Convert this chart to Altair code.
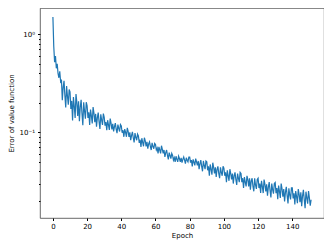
import altair as alt
import pandas as pd

step = 0.5
errors = [
    1.5, 0.75, 0.52, 0.6, 0.45, 0.5, 0.4, 0.36, 0.42, 0.33,
    0.345, 0.212, 0.288, 0.335, 0.237, 0.179, 0.296, 0.235, 0.191, 0.273,
    0.258, 0.173, 0.209, 0.132, 0.229, 0.184, 0.140, 0.246, 0.202, 0.147,
    0.207, 0.130, 0.181, 0.215, 0.156, 0.118, 0.202, 0.165, 0.138, 0.203,
    0.186, 0.140, 0.160, 0.119, 0.171, 0.147, 0.123, 0.181, 0.157, 0.127,
    0.154, 0.114, 0.141, 0.159, 0.128, 0.108, 0.153, 0.133, 0.119, 0.155,
    0.142, 0.117, 0.127, 0.105, 0.133, 0.119, 0.106, 0.138, 0.124, 0.107,
    0.122, 0.102, 0.114, 0.124, 0.108, 0.098, 0.120, 0.110, 0.102, 0.120,
    0.116, 0.099, 0.105, 0.090, 0.108, 0.100, 0.090, 0.111, 0.102, 0.090,
    0.100, 0.083, 0.093, 0.101, 0.088, 0.079, 0.098, 0.089, 0.083, 0.096,
    0.092, 0.078, 0.084, 0.071, 0.087, 0.079, 0.072, 0.088, 0.082, 0.072,
    0.080, 0.068, 0.076, 0.080, 0.072, 0.066, 0.078, 0.072, 0.068, 0.077,
    0.075, 0.066, 0.069, 0.061, 0.071, 0.066, 0.061, 0.073, 0.067, 0.061,
    0.066, 0.056, 0.062, 0.066, 0.058, 0.053, 0.062, 0.058, 0.054, 0.061,
    0.058, 0.052, 0.055, 0.050, 0.057, 0.053, 0.050, 0.057, 0.054, 0.050,
    0.055, 0.049, 0.053, 0.056, 0.052, 0.048, 0.055, 0.052, 0.050, 0.056,
    0.056, 0.049, 0.052, 0.045, 0.053, 0.0495, 0.046, 0.054, 0.050, 0.046,
    0.051, 0.042, 0.048, 0.052, 0.045, 0.040, 0.051, 0.046, 0.042, 0.051,
    0.050, 0.041, 0.045, 0.036, 0.047, 0.042, 0.037, 0.049, 0.044, 0.038,
    0.044, 0.035, 0.042, 0.045, 0.038, 0.034, 0.044, 0.039, 0.036, 0.045,
    0.043, 0.036, 0.039, 0.031, 0.041, 0.036, 0.032, 0.042, 0.038, 0.033,
    0.038, 0.030, 0.036, 0.039, 0.033, 0.029, 0.038, 0.034, 0.031, 0.039,
    0.038, 0.031, 0.034, 0.027, 0.035, 0.031, 0.028, 0.036, 0.033, 0.028,
    0.034, 0.026, 0.032, 0.034, 0.028, 0.025, 0.034, 0.029, 0.0265, 0.033,
    0.034, 0.027, 0.030, 0.024, 0.032, 0.028, 0.024, 0.033, 0.0295, 0.025,
    0.0295, 0.0226, 0.0275, 0.031, 0.0255, 0.0217, 0.030, 0.026, 0.0237, 0.030,
    0.0307, 0.0239, 0.027, 0.0208, 0.0286, 0.025, 0.0214, 0.030, 0.0265, 0.022,
    0.0264, 0.0197, 0.0245, 0.0278, 0.0226, 0.0188, 0.0268, 0.023, 0.0207, 0.0271,
    0.0271, 0.0212, 0.0239, 0.0184, 0.0252, 0.0221, 0.0189, 0.0264, 0.0233, 0.0194,
    0.0244, 0.0176, 0.0225, 0.0259, 0.0205, 0.0168, 0.0248, 0.0215, 0.0187, 0.0252,
    0.0215, 0.0178, 0.0205,
]
epochs = [i * step for i in range(len(errors))]

x_ticks = [0, 20, 40, 60, 80, 100, 120, 140]
y_major = [0.1, 1.0]
y_minor = [0.02, 0.03, 0.04, 0.05, 0.06, 0.07, 0.08, 0.09,
           0.2, 0.3, 0.4, 0.5, 0.6, 0.7, 0.8, 0.9]

df = pd.DataFrame({"epoch": epochs, "err": errors})

FONT = "DejaVu Sans"
xscale = alt.Scale(domain=[-7.55, 158.55], nice=False, zero=False)
yscale = alt.Scale(type="log", domain=[0.01336, 1.855], nice=False)

xaxis = alt.Axis(values=x_ticks, title="Epoch", grid=False, tickSize=2.5,
                 labelPadding=2, titlePadding=2, labelFontSize=7, titleFontSize=7,
                 labelFont=FONT, titleFont=FONT, titleFontWeight="normal",
                 domain=False, tickColor="#000", labelColor="#000", titleColor="#000")

line = alt.Chart(df).mark_line(color="#1f77b4", strokeWidth=1.2, clip=True).encode(
    x=alt.X("epoch:Q", scale=xscale, axis=xaxis),
    y=alt.Y("err:Q", scale=yscale,
            axis=alt.Axis(values=y_major, title="Error of value function", grid=False,
                          tickSize=2.5, labelPadding=3, titlePadding=5,
                          labelExpr="datum.value >= 0.5 ? '10⁰' : '10⁻¹'",
                          labelFontSize=7, titleFontSize=7, labelFont=FONT, titleFont=FONT,
                          titleFontWeight="normal", domain=False, tickColor="#000",
                          labelColor="#000", titleColor="#000", orient="left")),
)

minor = alt.Chart(df).mark_line(opacity=0).encode(
    x=alt.X("epoch:Q", scale=xscale, axis=xaxis),
    y=alt.Y("err:Q", scale=yscale,
            axis=alt.Axis(values=y_minor, title=None, grid=False, labels=False,
                          tickSize=1.5, domain=False, tickColor="#000", orient="left")),
)

chart = alt.layer(minor, line).resolve_axis(y="independent").properties(
    width=284, height=210,
    autosize=alt.AutoSizeParams(type="none"),
    padding={"left": 32, "top": 0, "right": 0, "bottom": 23},
).configure_view(stroke="#444", strokeWidth=0.8)

chart.save("out.html", embed_options={"renderer": "svg", "actions": False})
